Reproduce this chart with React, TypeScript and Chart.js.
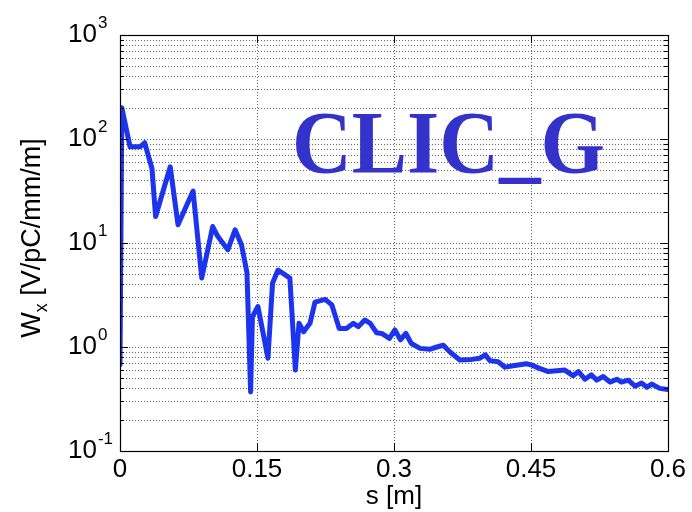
import React, { useEffect, useRef } from 'react';
import { Chart, registerables } from 'chart.js';

Chart.register(...registerables);

// ---- data ----
const sValues = [
  0, 0.002, 0.011, 0.022, 0.027, 0.035, 0.039, 0.055, 0.0635, 0.080,
  0.0895, 0.1015, 0.107, 0.118, 0.126, 0.133, 0.139, 0.143, 0.145, 0.151,
  0.162, 0.167, 0.173, 0.186, 0.192, 0.196, 0.201, 0.208, 0.2135, 0.2245,
  0.232, 0.240, 0.248, 0.2555, 0.261, 0.268, 0.274, 0.281, 0.2865, 0.295,
  0.301, 0.307, 0.313, 0.319, 0.3285, 0.339, 0.347, 0.354, 0.361, 0.372,
  0.385, 0.394, 0.400, 0.405, 0.414, 0.4215, 0.4305, 0.445, 0.451, 0.46,
  0.469, 0.478, 0.487, 0.496, 0.502, 0.509, 0.516, 0.522, 0.529, 0.5365,
  0.544, 0.549, 0.5565, 0.564, 0.571, 0.577, 0.582, 0.591, 0.6,
];
const wxValues = [
  0.67, 200, 84, 84, 92, 52, 18, 54, 15, 31.6,
  4.6, 14.4, 11.6, 8.6, 13.4, 9.6, 5.2, 0.37, 1.96, 2.45,
  0.78, 4.1, 5.5, 4.6, 0.6, 1.69, 1.4, 1.69, 2.7, 2.87,
  2.54, 1.51, 1.51, 1.69, 1.57, 1.82, 1.69, 1.37, 1.35, 1.21,
  1.46, 1.17, 1.35, 1.08, 0.97, 0.95, 1.0, 1.04, 0.9, 0.75,
  0.76, 0.78, 0.84, 0.74, 0.72, 0.64, 0.66, 0.69, 0.67, 0.62,
  0.58, 0.59, 0.6, 0.53, 0.58, 0.49, 0.54, 0.48, 0.52, 0.46,
  0.49, 0.46, 0.48, 0.42, 0.45, 0.41, 0.44, 0.40, 0.39,
];
const xTickValues = [0, 0.15, 0.3, 0.45, 0.6];
const xTickLabels = ['0', '0.15', '0.3', '0.45', '0.6'];
const yTickValues = [0.1, 1, 10, 100, 1000];
const yTickExponents = ['-1', '0', '1', '2', '3'];
const xTitle = 's [m]';
const yTitleMain = 'W';
const yTitleSub = 'x';
const yTitleRest = ' [V/pC/mm/m]';
const annotationText = 'CLIC_G';

const FONT = '"Liberation Sans", Arial, Helvetica, sans-serif';

const matlabPlugin = {
  id: 'matlabAxes',
  beforeDatasetsDraw(chart: any) {
    const { ctx, chartArea: a, scales } = chart;
    const xs = scales.x, ys = scales.y;
    ctx.save();
    ctx.strokeStyle = '#666';
    ctx.lineWidth = 1;
    ctx.setLineDash([1, 2]);
    // horizontal grid at every log minor value
    for (let k = -1; k <= 2; k++) {
      for (let m = 1; m <= 9; m++) {
        const v = m * Math.pow(10, k);
        if (v <= 0.1) continue;
        const py = Math.round(ys.getPixelForValue(v)) + 0.5;
        ctx.beginPath();
        ctx.moveTo(a.left, py);
        ctx.lineTo(a.right, py);
        ctx.stroke();
      }
    }
    for (const v of xTickValues) {
      if (v === xTickValues[0] || v === xTickValues[xTickValues.length - 1]) continue;
      const px = Math.round(xs.getPixelForValue(v)) + 0.5;
      ctx.beginPath();
      ctx.moveTo(px, a.top);
      ctx.lineTo(px, a.bottom);
      ctx.stroke();
    }
    ctx.restore();
  },
  afterDraw(chart: any) {
    const { ctx, chartArea: a, scales } = chart;
    const xs = scales.x, ys = scales.y;
    ctx.save();
    ctx.setLineDash([]);
    ctx.strokeStyle = '#000';
    ctx.lineWidth = 1.2;
    // box
    ctx.strokeRect(Math.round(a.left) + 0.5, Math.round(a.top) + 0.5,
      Math.round(a.right - a.left), Math.round(a.bottom - a.top));
    // y ticks (major + minor), left and right
    ctx.lineWidth = 1;
    for (let k = -1; k <= 2; k++) {
      for (let m = 1; m <= 9; m++) {
        const v = m * Math.pow(10, k);
        const py = Math.round(ys.getPixelForValue(v)) + 0.5;
        const len = m === 1 ? 8 : 4;
        ctx.beginPath();
        ctx.moveTo(a.left, py); ctx.lineTo(a.left + len, py);
        ctx.moveTo(a.right, py); ctx.lineTo(a.right - len, py);
        ctx.stroke();
      }
    }
    // x ticks
    for (const v of xTickValues) {
      const px = Math.round(xs.getPixelForValue(v)) + 0.5;
      ctx.beginPath();
      ctx.moveTo(px, a.bottom); ctx.lineTo(px, a.bottom - 8);
      ctx.moveTo(px, a.top); ctx.lineTo(px, a.top + 8);
      ctx.stroke();
    }
    // x tick labels
    ctx.fillStyle = '#000';
    ctx.font = `26px ${FONT}`;
    ctx.textAlign = 'center';
    ctx.textBaseline = 'alphabetic';
    xTickValues.forEach((v, i) => {
      ctx.fillText(xTickLabels[i], xs.getPixelForValue(v), a.bottom + 26);
    });
    // y tick labels 10^n
    yTickValues.forEach((v, i) => {
      const py = ys.getPixelForValue(v);
      ctx.textAlign = 'left';
      ctx.font = `26px ${FONT}`;
      const base = '10';
      const bx = 68;
      ctx.fillText(base, bx, py + 7);
      const bw = ctx.measureText(base).width;
      ctx.font = `17px ${FONT}`;
      ctx.fillText(yTickExponents[i], bx + bw + 1, py - 7);
    });
    // x title
    ctx.font = `26px ${FONT}`;
    ctx.textAlign = 'center';
    ctx.fillText(xTitle, (a.left + a.right) / 2, 504);
    // y title (rotated)
    ctx.save();
    ctx.translate(40, 238);
    ctx.rotate(-Math.PI / 2);
    ctx.textAlign = 'left';
    ctx.font = `27px ${FONT}`;
    const wMain = ctx.measureText(yTitleMain).width;
    const wRest = ctx.measureText(yTitleRest).width;
    ctx.font = `18px ${FONT}`;
    const wSub = ctx.measureText(yTitleSub).width;
    const total = wMain + wSub + wRest;
    let x0 = -total / 2;
    ctx.font = `27px ${FONT}`;
    ctx.fillText(yTitleMain, x0, 0);
    x0 += wMain;
    ctx.font = `18px ${FONT}`;
    ctx.fillText(yTitleSub, x0, 7);
    x0 += wSub;
    ctx.font = `27px ${FONT}`;
    ctx.fillText(yTitleRest, x0, 0);
    ctx.restore();
    // annotation
    ctx.save();
    ctx.font = `bold 88px "Liberation Serif", "Times New Roman", serif`;
    ctx.fillStyle = '#3333cc';
    const tw = ctx.measureText(annotationText).width;
    ctx.translate(292, 172);
    ctx.scale(313 / tw, 1);
    ctx.textAlign = 'left';
    ctx.fillText(annotationText, 0, 0);
    ctx.restore();
    ctx.restore();
  },
};

export default function App() {
  const canvasRef = useRef<HTMLCanvasElement | null>(null);

  useEffect(() => {
    const canvas = canvasRef.current;
    if (!canvas) return;
    const chart = new Chart(canvas, {
      type: 'line',
      data: {
        datasets: [
          {
            data: sValues.map((s, i) => ({ x: s, y: wxValues[i] })),
            borderColor: '#1c34ee',
            borderWidth: 5,
            pointRadius: 0,
            tension: 0,
            borderJoinStyle: 'round',
            borderCapStyle: 'round',
            fill: false,
          },
        ],
      },
      options: {
        responsive: false,
        animation: false,
        devicePixelRatio: 1,
        layout: { padding: { top: 35, right: 24, left: 0, bottom: 0 } },
        plugins: {
          legend: { display: false },
          tooltip: { enabled: false },
        },
        scales: {
          x: {
            type: 'linear',
            min: 0,
            max: 0.6,
            ticks: { display: false },
            grid: { display: false },
            border: { display: false },
            afterFit: (s: any) => { s.height = 61; },
          },
          y: {
            type: 'logarithmic',
            min: 0.1,
            max: 1000,
            ticks: { display: false },
            grid: { display: false },
            border: { display: false },
            afterFit: (s: any) => { s.width = 120; },
          },
        },
      } as any,
      plugins: [matlabPlugin],
    });
    return () => chart.destroy();
  }, []);

  return (
    <div style={{ position: 'absolute', left: 0, top: 0, width: 692, height: 512, background: '#fff' }}>
      <canvas ref={canvasRef} width={692} height={512} />
    </div>
  );
}
